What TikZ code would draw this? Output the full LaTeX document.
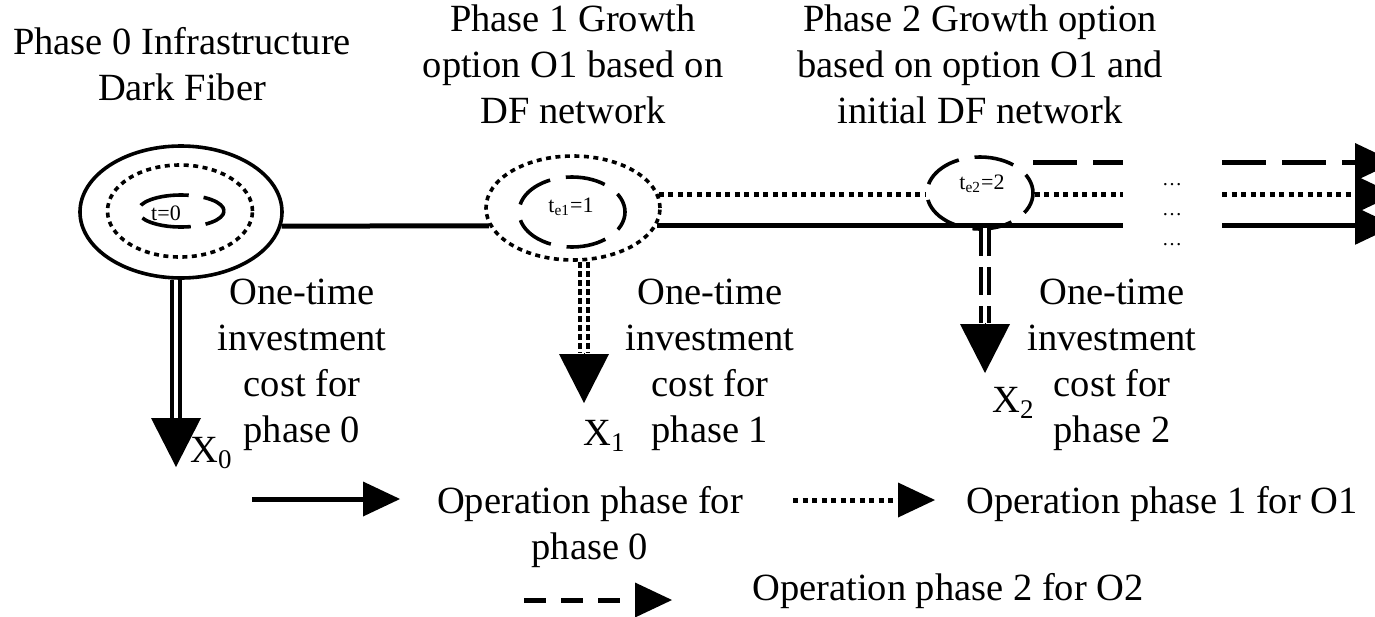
\documentclass[tikz,border=0pt]{standalone}
\usepackage{fontspec}
\setmainfont{Liberation Serif}
\usetikzlibrary{shapes.geometric,arrows.meta}
\begin{document}
\begin{tikzpicture}[x=0.5pt,y=-0.5pt,
  lbl/.style={font=\fontsize{19.25pt}{23pt}\selectfont, inner sep=0pt, align=center},
  tlbl/.style={font=\fontsize{11pt}{12pt}\selectfont, inner sep=0pt},
  dotsl/.style={font=\fontsize{10pt}{12pt}\selectfont, inner sep=0pt},
  ell/.style={ellipse, draw, inner sep=0pt, line width=1.8pt},
  dotpat/.style={dash pattern=on 2.5pt off 2.25pt},
  solidln/.style={line width=2.5pt},
  dotln/.style={line width=2.5pt, dotpat},
  dashln/.style={line width=2.5pt, dash pattern=on 22pt off 8pt},
  legdash/.style={line width=2.5pt, dash pattern=on 11pt off 7.5pt},
  bigtip/.style={-{Triangle[width=19pt,length=20pt,line width=0pt]}},
  legtip/.style={-{Triangle[width=17.5pt,length=18.5pt,line width=0pt]}},
  downtip/.style={line width=0.1pt, -{Triangle[width=25pt,length=24.5pt,line width=0pt]}},
  dbl/.style={double, line width=2pt, double distance=1.75pt}
]
\useasboundingbox (0,0) rectangle (1375,616);

% phase ellipses
\node[ell, minimum width=101pt, minimum height=66pt] (e0) at (181,212) {};
\node[ell, dotpat, minimum width=72.5pt, minimum height=46pt] (e0d) at (180,211) {};
\node[ell, dash pattern=on 25pt off 7.5pt, dash phase=12pt, minimum width=43pt, minimum height=16pt] (e0i) at (181,211) {};
\node[tlbl, anchor=base] (t0) at (166,220) {t=0};

\node[ell, dotpat, minimum width=87pt, minimum height=52pt] (e1) at (573,208) {};
\node[ell, dash pattern=on 20pt off 8pt, dash phase=10pt, minimum width=53pt, minimum height=35pt] (e1i) at (572,212) {};
\node[tlbl, anchor=base] (t1) at (571,212) {t\textsubscript{e1}=1};

\node[ell, dash pattern=on 20pt off 8pt, dash phase=10pt, minimum width=53pt, minimum height=36pt] (e2) at (980,193) {};
\node[tlbl, anchor=base] (t2) at (982,189) {t\textsubscript{e2}=2};

% top labels
\node[lbl, anchor=north] (p0) at (182,27) {Phase 0 Infrastructure\\Dark Fiber};
\node[lbl, anchor=north] (p1) at (573,4) {Phase 1 Growth\\option O1 based on\\DF network};
\node[lbl, anchor=north] (p2) at (980,4) {Phase 2 Growth option\\based on option O1 and\\initial DF network};

% break / end coordinates
\coordinate (b1) at (1123,0);
\coordinate (b2) at (1222,0);
\coordinate (ex) at (1395,0);
\coordinate (d0) at (1033,162);

% solid line
\draw[solidln] (e0.-8) -- (e1.192);
\draw[solidln] (e1.-12) -- (e1.-12 -| b1);
\draw[solidln, bigtip] (b2 |- e1.-12) -- (ex |- e1.-12);
% dotted line
\draw[dotln] (e1.9) -- (e1.9 -| e2.west);
\draw[dotln] (e2.east |- e1.9) -- (b1 |- e1.9);
\draw[dotln, bigtip] (b2 |- e1.9) -- (ex |- e1.9);
% dashed line
\draw[dashln] (d0) -- (b1 |- d0);
\draw[dashln, bigtip] (b2 |- d0) -- (ex |- d0);

% ellipsis dots
\node[dotsl, anchor=base] (k1) at (1172,185) {…};
\node[dotsl, anchor=base] (k2) at (1172,215) {…};
\node[dotsl, anchor=base] (k3) at (1172,245) {…};

% vertical investment arrows
\coordinate (v0b) at (176,418); \coordinate (v0t) at (176,467);
\draw[dbl] (e0.south -| v0b) -- (v0b);
\draw[downtip] (v0b) -- (v0t);
\coordinate (v1b) at (584,353); \coordinate (v1t) at (584,403);
\draw[dbl, dash pattern=on 3pt off 1.5pt] (e1.south -| v1b) -- (v1b);
\draw[downtip] (v1b) -- (v1t);
\coordinate (v2b) at (985,323); \coordinate (v2t) at (985,373);
\coordinate (v2s) at (985,228);
\draw[dbl, dash pattern=on 14pt off 5.5pt] (v2s) -- (v2b);
\draw[downtip] (v2b) -- (v2t);

\node[lbl, anchor=base west] (x0) at (190,462) {X\textsubscript{0}};
\node[lbl, anchor=base west] (x1) at (583,445) {X\textsubscript{1}};
\node[lbl, anchor=base west] (x2) at (992,412) {X\textsubscript{2}};

% cost labels
\node[lbl, anchor=north] (c0) at (302,279) {One-time\\investment\\cost for\\phase 0};
\node[lbl, anchor=north] (c1) at (710,279) {One-time\\investment\\cost for\\phase 1};
\node[lbl, anchor=north] (c2) at (1112,279) {One-time\\investment\\cost for\\phase 2};

% legend
\coordinate (ls0) at (252,499); \coordinate (ls1) at (400,499);
\draw[solidln, legtip] (ls0) -- (ls1);
\node[lbl, anchor=north] (l0) at (590,486) {Operation phase for\\phase 0};
\coordinate (lo0) at (793,500); \coordinate (lo1) at (935,500);
\draw[dotln, legtip] (lo0) -- (lo1);
\node[lbl, anchor=base west] (l1) at (966,513) {Operation phase 1 for O1};
\coordinate (ld0) at (524,600); \coordinate (ld1) at (672,600);
\draw[legdash, legtip] (ld0) -- (ld1);
\node[lbl, anchor=base west] (l2) at (752,600) {Operation phase 2 for O2};
\end{tikzpicture}
\end{document}
